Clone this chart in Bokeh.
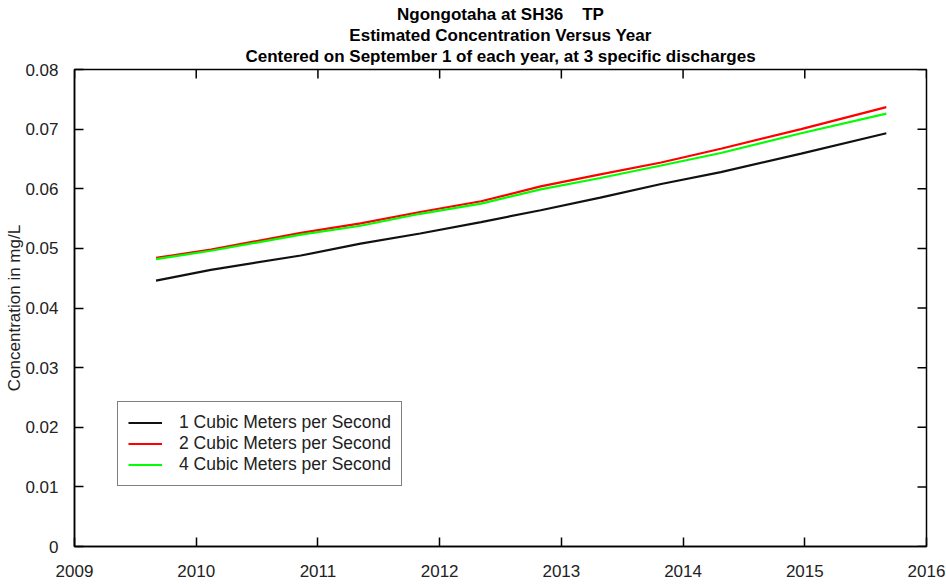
from bokeh.plotting import figure
from bokeh.embed import file_html
from bokeh.resources import INLINE
from bokeh.models import (Legend, LegendItem, Title, FixedTicker,
                          Range1d, ColumnDataSource)

# ---- data ----
years = [2009.67, 2010.12, 2010.86, 2011.35, 2011.84, 2012.34, 2012.83,
         2013.32, 2013.82, 2014.31, 2014.97, 2015.67]
q1 = [0.0446, 0.0464, 0.0488, 0.0508, 0.0525, 0.0544, 0.0564,
      0.0585, 0.0608, 0.0628, 0.0659, 0.0693]
q2 = [0.0484, 0.0498, 0.0526, 0.0542, 0.0561, 0.0579, 0.0604,
      0.0624, 0.0644, 0.0667, 0.0700, 0.0737]
q4 = [0.0482, 0.0496, 0.0523, 0.0538, 0.0558, 0.0575, 0.0599,
      0.0618, 0.0639, 0.0660, 0.0693, 0.0726]
series_labels = ["1 Cubic Meters per Second", "2 Cubic Meters per Second",
                 "4 Cubic Meters per Second"]
x_ticks = [2009, 2010, 2011, 2012, 2013, 2014, 2015, 2016]
x_tick_labels = ["2009", "2010", "2011", "2012", "2013", "2014", "2015", "2016"]
y_ticks = [0, 0.01, 0.02, 0.03, 0.04, 0.05, 0.06, 0.07, 0.08]
y_tick_labels = ["0", "0.01", "0.02", "0.03", "0.04", "0.05", "0.06", "0.07", "0.08"]
title_lines = ["Ngongotaha at SH36\u00a0\u00a0\u00a0\u00a0TP",
               "Estimated Concentration Versus Year",
               "Centered on September 1 of each year, at 3 specific discharges"]

FONT = "Liberation Sans"
FS = "17px"

p = figure(width=946, height=584, output_backend="svg", toolbar_location=None,
           title=None,
           x_range=Range1d(2009, 2016), y_range=Range1d(0, 0.08),
           min_border_left=74, min_border_right=20, min_border_top=69,
           min_border_bottom=38)
p.grid.visible = False
p.outline_line_color = "black"
p.outline_line_width = 1.5
p.background_fill_color = "white"
p.border_fill_color = "white"

xa = p.xaxis[0]
xa.ticker = FixedTicker(ticks=x_ticks)
xa.major_label_overrides = {t: l for t, l in zip(x_ticks, x_tick_labels)}
ya = p.yaxis[0]
ya.ticker = FixedTicker(ticks=y_ticks)
ya.major_label_overrides = {t: l for t, l in zip(y_ticks, y_tick_labels)}
ya.axis_label = "Concentration in mg/L"
ya.axis_label_text_font = FONT
ya.axis_label_text_font_size = FS
ya.axis_label_text_font_style = "normal"
ya.axis_label_text_color = "#222222"
ya.axis_label_standoff = -2
ya.major_label_standoff = 16
xa.major_label_standoff = 18

for ax in (xa, ya):
    ax.major_label_text_font = FONT
    ax.major_label_text_font_size = FS
    ax.major_label_text_color = "#222222"
    ax.minor_tick_line_color = None
    ax.major_tick_in = 9
    ax.major_tick_out = 0
    ax.axis_line_width = 1.5
    ax.major_tick_line_width = 1.5
    ax.axis_line_color = "black"
    ax.major_tick_line_color = "black"

# inward ticks on the top and right edges of the frame
p.scatter(x=x_ticks, y=[y_ticks[-1]] * len(x_ticks), marker="dash", size=18,
          angle=1.5708, line_color="black", line_width=1.5)
p.scatter(x=[x_ticks[-1]] * len(y_ticks), y=y_ticks, marker="dash", size=18,
          line_color="black", line_width=1.5)

# title lines, added from the one nearest the plot outwards
for i, line in enumerate(reversed(title_lines)):
    p.add_layout(Title(text=line, align="center", text_font=FONT,
                       text_font_size="17px", text_font_style="bold",
                       standoff=4 if i == 0 else 0,
                       vertical_align="top" if i == 0 else "bottom",
                       text_color="black"), "above")

src = ColumnDataSource(dict(x=years, q1=q1, q2=q2, q4=q4))
r1 = p.line("x", "q1", source=src, line_color="#111111", line_width=2.2)
r2 = p.line("x", "q2", source=src, line_color="#ff0000", line_width=2.2)
r4 = p.line("x", "q4", source=src, line_color="#00ff00", line_width=2.2)

legend = Legend(items=[LegendItem(label=series_labels[0], renderers=[r1]),
                       LegendItem(label=series_labels[1], renderers=[r2]),
                       LegendItem(label=series_labels[2], renderers=[r4])],
                location=(43, 60), padding=10, spacing=0, margin=0,
                label_height=21, glyph_height=21, glyph_width=34,
                label_standoff=17, label_text_font=FONT, label_text_font_size="17.5px",
                label_text_color="#222222",
                border_line_color="black", border_line_width=1.2,
                background_fill_color="white", background_fill_alpha=1.0)
p.add_layout(legend)

open("out.html", "w").write(file_html(p, INLINE))
